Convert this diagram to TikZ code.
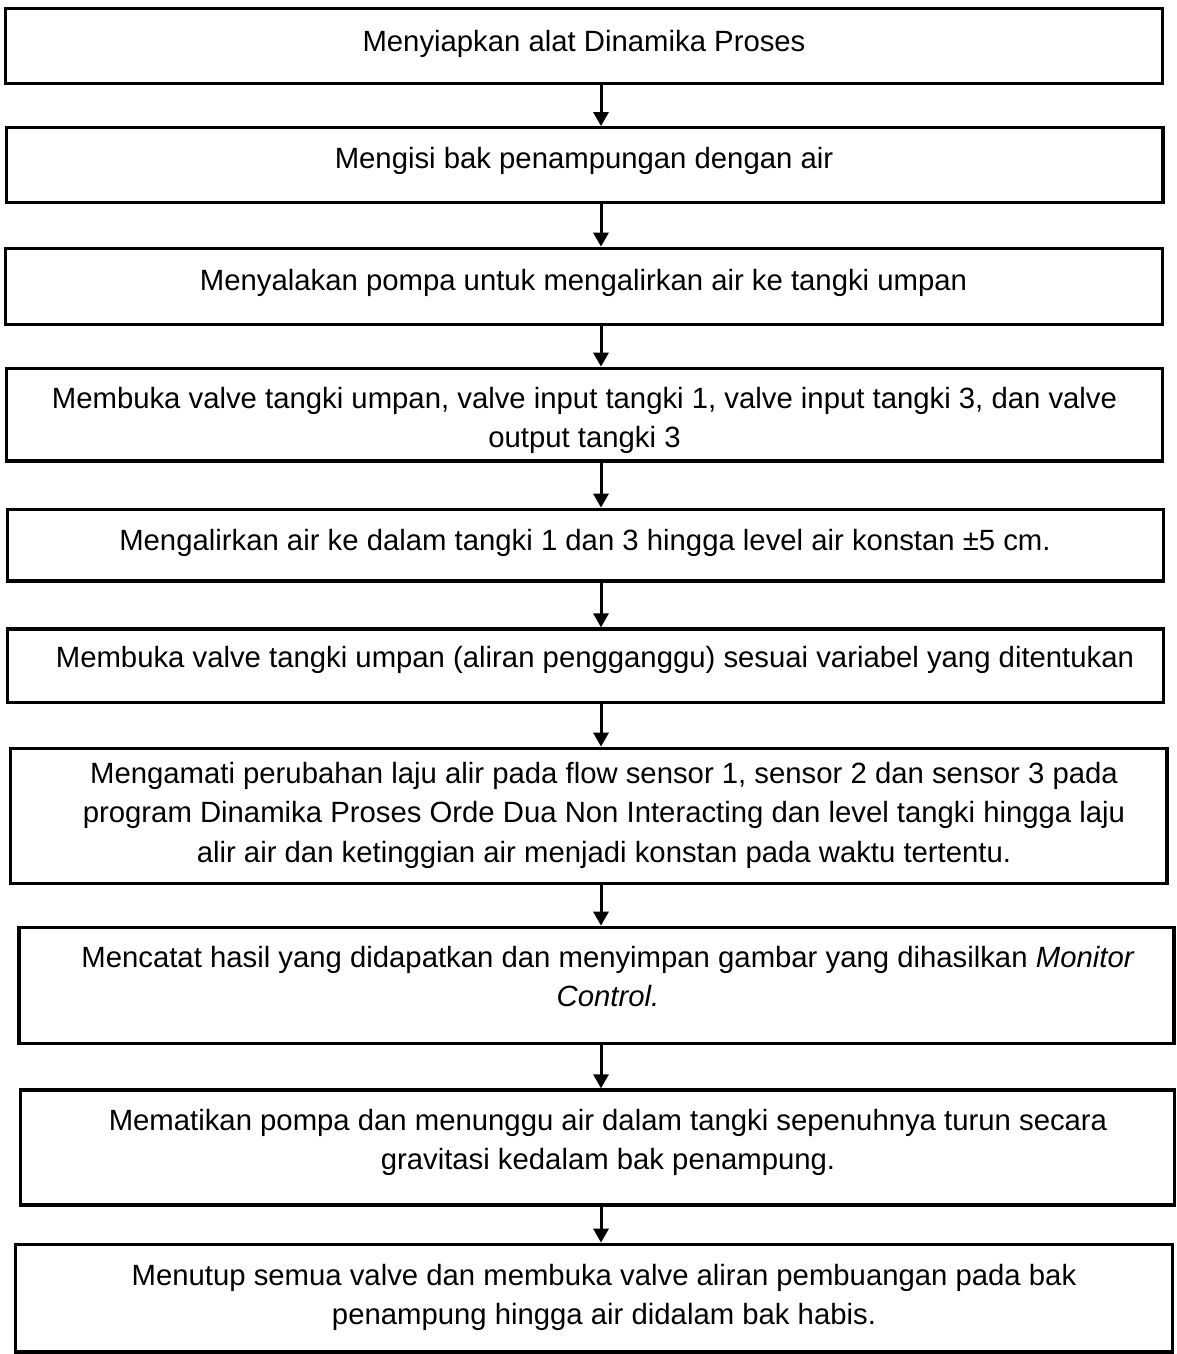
\documentclass[tikz,border=0pt]{standalone}
\usepackage{fontspec}
\setmainfont{Liberation Sans}
\usetikzlibrary{arrows.meta}
\begin{document}
\begin{tikzpicture}[x=1pt,y=-1pt,
  box/.style={draw=black, line width=3.3pt, inner sep=0pt, fill=none},
  lbl/.style={anchor=north, inner sep=0pt, align=center, font=\fontsize{29.3}{39.5}\selectfont},
  arr/.style={line width=3pt, -{Triangle[width=15pt,length=14pt]}}]
\useasboundingbox (0,0) rectangle (1176,1354);
\fill[white] (0,0) rectangle (1176,1354);
% boxes
\node[box, minimum width=1157pt,   minimum height=75pt]    (b1)  at (584.2,45.8)   {};
\node[box, minimum width=1156.3pt, minimum height=75pt]    (b2)  at (584.85,165.2) {};
\node[box, minimum width=1157pt,   minimum height=76pt]    (b3)  at (584.2,286.3)  {};
\node[box, minimum width=1156pt,   minimum height=92.7pt]  (b4)  at (584.7,414.65) {};
\node[box, minimum width=1156.4pt, minimum height=71.7pt]  (b5)  at (585.5,545.15) {};
\node[box, minimum width=1156.4pt, minimum height=73.3pt]  (b6)  at (585.5,665.65) {};
\node[box, minimum width=1156.3pt, minimum height=135pt]   (b7)  at (588.85,815.8) {};
\node[box, minimum width=1155pt,   minimum height=116pt]   (b8)  at (596.5,985.3)  {};
\node[box, minimum width=1153.8pt, minimum height=115pt]   (b9)  at (597.6,1147.5) {};
\node[box, minimum width=1157pt,   minimum height=107.7pt] (b10) at (594.2,1298.15) {};
% texts
\node[lbl] (t1)  at (584,23.85)    {\strut Menyiapkan alat Dinamika Proses};
\node[lbl] (t2)  at (584,140.85)   {\strut Mengisi bak penampungan dengan air};
\node[lbl] (t3)  at (583.5,262.35) {\strut Menyalakan pompa untuk mengalirkan air ke tangki umpan};
\node[lbl] (t4)  at (584.5,380.35) {\strut Membuka valve tangki umpan, valve input tangki 1, valve input tangki 3, dan valve\\\strut output tangki 3};
\node[lbl] (t5)  at (585,522.35)   {\strut Mengalirkan air ke dalam tangki 1 dan 3 hingga level air konstan ±5 cm.};
\node[lbl] (t6)  at (595,639.35)   {\strut Membuka valve tangki umpan (aliran pengganggu) sesuai variabel yang ditentukan};
\node[lbl] (t7)  at (604,755.35)   {\strut Mengamati perubahan laju alir pada flow sensor 1, sensor 2 dan sensor 3 pada\\\strut program Dinamika Proses Orde Dua Non Interacting dan level tangki hingga laju\\\strut alir air dan ketinggian air menjadi konstan pada waktu tertentu.};
\node[lbl] (t8)  at (608,939.35)   {\strut Mencatat hasil yang didapatkan dan menyimpan gambar yang dihasilkan \textit{Monitor}\\\strut\textit{Control.}};
\node[lbl] (t9)  at (608,1102.35)  {\strut Mematikan pompa dan menunggu air dalam tangki sepenuhnya turun secara\\\strut gravitasi kedalam bak penampung.};
\node[lbl] (t10) at (604,1257.35)  {\strut Menutup semua valve dan membuka valve aliran pembuangan pada bak\\\strut penampung hingga air didalam bak habis.};
% arrows
\coordinate (ax) at (601,0);
\draw[arr] (b1.south -| ax) -- (b2.north -| ax);
\draw[arr] (b2.south -| ax) -- (b3.north -| ax);
\draw[arr] (b3.south -| ax) -- (b4.north -| ax);
\draw[arr] (b4.south -| ax) -- (b5.north -| ax);
\draw[arr] (b5.south -| ax) -- (b6.north -| ax);
\draw[arr] (b6.south -| ax) -- (b7.north -| ax);
\draw[arr] (b7.south -| ax) -- (b8.north -| ax);
\draw[arr] (b8.south -| ax) -- (b9.north -| ax);
\draw[arr] (b9.south -| ax) -- (b10.north -| ax);
\end{tikzpicture}
\end{document}
